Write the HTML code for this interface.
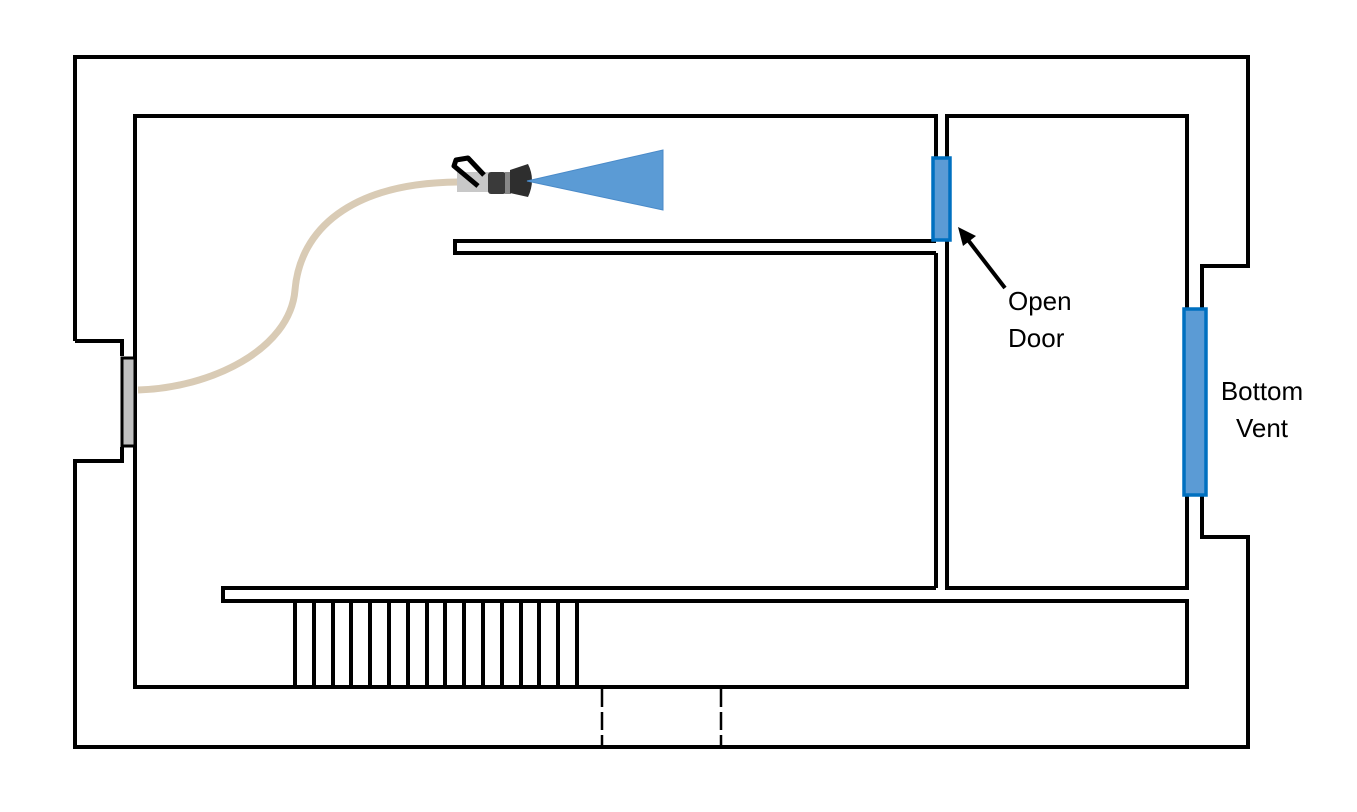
<!DOCTYPE html>
<html><head><meta charset="utf-8"><style>
html,body{margin:0;padding:0;background:#fff;}
svg{display:block;}
text{font-family:"Liberation Sans","DejaVu Sans",sans-serif;font-size:26px;fill:#000;}
</style></head><body>
<svg width="1357" height="812" viewBox="0 0 1357 812">
<g fill="none" stroke="#000" stroke-width="4" stroke-linejoin="miter">
  <polyline points="75,341 75,57 1248,57 1248,266 1202,266 1202,310"/>
  <polyline points="1202,495 1202,537 1248,537 1248,747 75,747 75,461 122,461 122,447"/>
  <polyline points="75,341 122,341 122,356"/>
  <polyline points="936,588 936,253"/>
  <polyline points="936,158 936,116 135,116 135,687 1187,687 1187,601 223,601 223,588 936,588"/>
  <polyline points="936,241 455,241 455,253 936,253"/>
  <polyline points="947,158 947,116 1187,116 1187,588 947,588 947,240"/>
  <g>
    <line x1="295" y1="601" x2="295" y2="687"/><line x1="314" y1="601" x2="314" y2="687"/>
    <line x1="333" y1="601" x2="333" y2="687"/><line x1="351" y1="601" x2="351" y2="687"/>
    <line x1="370" y1="601" x2="370" y2="687"/><line x1="389" y1="601" x2="389" y2="687"/>
    <line x1="408" y1="601" x2="408" y2="687"/><line x1="427" y1="601" x2="427" y2="687"/>
    <line x1="445" y1="601" x2="445" y2="687"/><line x1="464" y1="601" x2="464" y2="687"/>
    <line x1="483" y1="601" x2="483" y2="687"/><line x1="502" y1="601" x2="502" y2="687"/>
    <line x1="521" y1="601" x2="521" y2="687"/><line x1="539" y1="601" x2="539" y2="687"/>
    <line x1="558" y1="601" x2="558" y2="687"/><line x1="577" y1="601" x2="577" y2="687"/>
  </g>
</g>
<g stroke="#000" stroke-width="2.5" stroke-dasharray="18,5">
  <line x1="602" y1="689" x2="602" y2="747"/><line x1="721" y1="689" x2="721" y2="747"/>
</g>
<rect x="122" y="358" width="13" height="88" fill="#c0c0c0" stroke="#000" stroke-width="3"/>
<path d="M138,390 C210,388 290,350 295,290 C300,230 350,183 458,182" fill="none" stroke="#d9cbb5" stroke-width="7"/>
<g>
  <rect x="457" y="172" width="33" height="20" fill="#c8c8c8"/>
  <path d="M478,186 L454,166 L456,160 L468,158 L484,175" fill="none" stroke="#000" stroke-width="5" stroke-linejoin="round"/>
  <rect x="488" y="172" width="18" height="22" rx="3" fill="#3a3a3a"/>
  <rect x="505" y="172" width="6" height="22" fill="#888"/>
  <path d="M510,170 L528,164 Q536,180 528,197 L510,193 Z" fill="#2e2e2e"/>
</g>
<polygon points="527,181 663,150 663,210" fill="#5b9bd5" stroke="#4a8ac8" stroke-width="1"/>
<rect x="933" y="158" width="17" height="82" fill="#5b9bd5" stroke="#0070c0" stroke-width="3.5"/>
<rect x="1184" y="309" width="22" height="186" fill="#5b9bd5" stroke="#0070c0" stroke-width="3.5"/>
<g>
  <line x1="1005" y1="288" x2="968" y2="240" stroke="#000" stroke-width="4"/>
  <polygon points="958,227 976,236 963,246" fill="#000"/>
</g>
<text x="1008" y="310">Open</text>
<text x="1008" y="347">Door</text>
<text x="1262" y="400" text-anchor="middle">Bottom</text>
<text x="1262" y="437" text-anchor="middle">Vent</text>
</svg>
</body></html>
